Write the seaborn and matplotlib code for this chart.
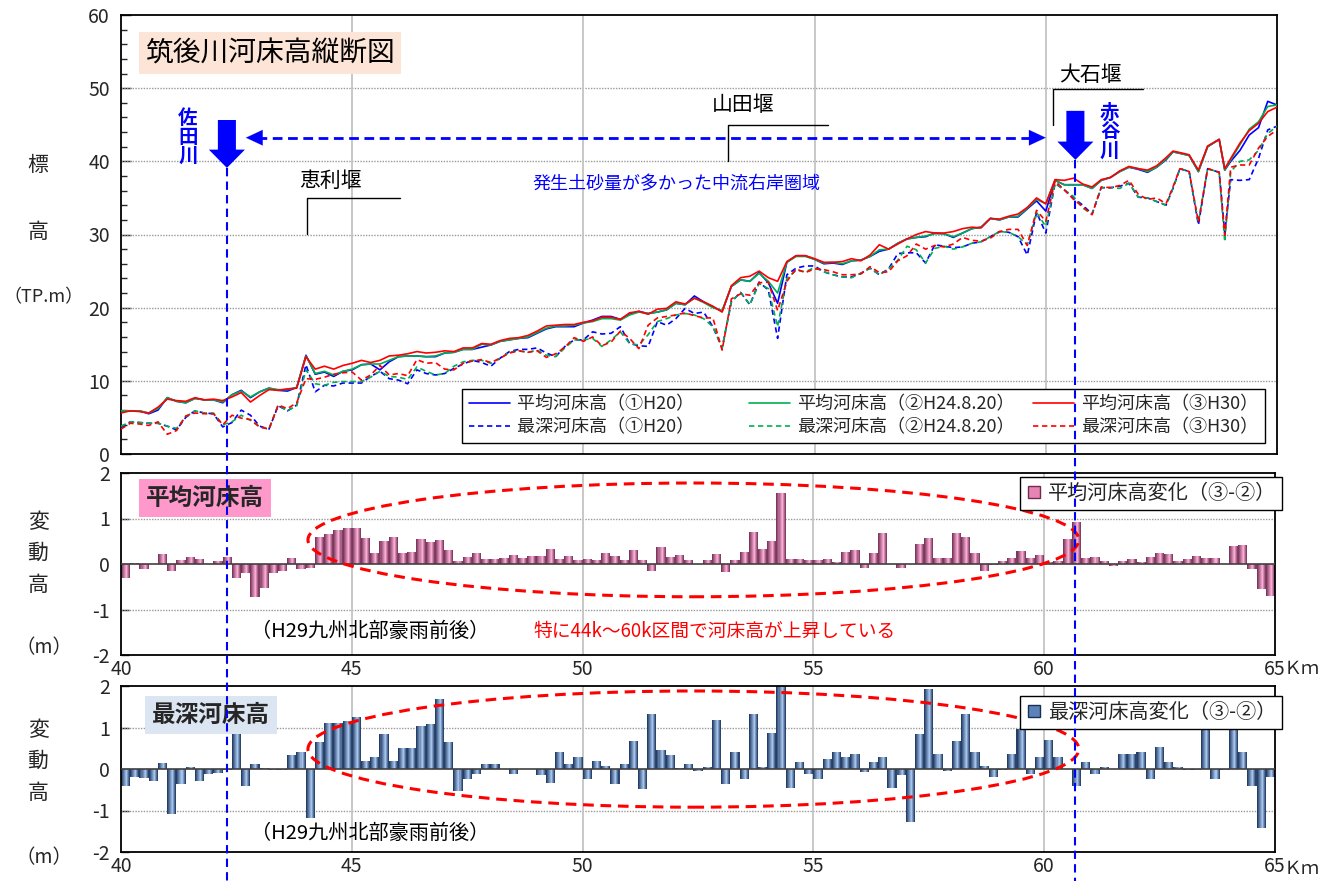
import numpy as np
import matplotlib
matplotlib.use("Agg")
import matplotlib.pyplot as plt
import matplotlib.transforms as mtransforms
from matplotlib.patches import Ellipse, FancyArrow
from matplotlib.lines import Line2D
from matplotlib.colors import LinearSegmentedColormap
import seaborn as sns

sns.set_theme(style="white")
plt.rcParams["font.family"] = ["Noto Sans CJK JP", "DejaVu Sans"]
plt.rcParams["axes.unicode_minus"] = False

# ---------------------------------------------------------------- data
# distance from river mouth (km) of each surveyed cross-section
km_grid = [round(40.0 + 0.2 * i, 1) for i in range(114)]
km_tail = [62.75, 62.9, 63.1, 63.3, 63.5, 63.75, 63.87, 64.0, 64.2, 64.4, 64.6, 64.8, 65.0]
km_line = km_grid + km_tail

# mean bed elevation (TP.m)
mean_h20 = [5.9, 5.9, 5.9, 5.5, 6.0, 7.7, 7.2, 7.0, 7.6, 7.4,
            7.4, 7.0, 8.1, 8.7, 7.7, 8.5, 9.0, 8.7, 8.6, 9.1,
            13.5, 10.9, 11.2, 10.6, 11.3, 11.5, 12.2, 12.3, 11.5, 12.6,
            13.3, 13.4, 13.4, 13.3, 13.3, 13.8, 13.9, 14.3, 14.3, 14.6,
            14.9, 15.4, 15.6, 15.8, 15.9, 16.5, 17.1, 17.4, 17.4, 17.4,
            17.9, 18.3, 18.8, 18.8, 18.4, 19.1, 19.5, 19.2, 19.4, 19.7,
            20.6, 20.4, 21.6, 20.8, 20.1, 19.5, 22.9, 23.8, 23.6, 24.8,
            23.4, 20.6, 26.2, 27.1, 27.1, 26.6, 26.0, 26.1, 25.9, 26.4,
            26.5, 27.0, 27.7, 28.0, 28.8, 29.4, 29.6, 29.7, 30.2, 30.1,
            29.6, 30.2, 30.8, 31.0, 32.2, 32.0, 32.4, 32.4, 33.5, 34.6,
            33.2, 37.4, 36.8, 36.8, 36.8, 36.3, 37.4, 37.8, 38.6, 39.2,
            38.9, 38.5, 39.2, 40.2,
            41.3, 41.1, 40.8, 38.6, 42.0, 43.0, 38.8, 40.0, 41.5, 43.6, 44.6, 48.2, 47.7]
mean_h24 = [5.9, 5.9, 5.9, 5.6, 6.2, 7.7, 7.2, 7.0, 7.6, 7.4,
            7.4, 7.1, 8.1, 8.6, 7.8, 8.5, 9.0, 8.8, 8.8, 9.1,
            13.4, 11.0, 11.3, 10.8, 11.3, 11.6, 12.2, 12.3, 12.3, 12.8,
            13.3, 13.4, 13.4, 13.3, 13.4, 13.8, 13.9, 14.3, 14.3, 15.0,
            14.9, 15.4, 15.6, 15.8, 16.0, 16.6, 17.2, 17.5, 17.5, 17.6,
            17.9, 18.1, 18.5, 18.5, 18.3, 19.0, 19.4, 19.2, 19.4, 19.7,
            20.6, 20.4, 21.3, 20.7, 20.0, 19.6, 22.9, 23.8, 23.6, 24.7,
            23.6, 22.0, 26.2, 27.0, 27.0, 26.6, 26.1, 26.2, 26.0, 26.4,
            26.5, 27.0, 27.9, 28.0, 28.8, 29.4, 29.6, 29.8, 30.1, 30.1,
            29.7, 30.2, 30.8, 31.0, 32.2, 32.0, 32.4, 32.5, 33.6, 34.8,
            34.2, 37.4, 36.8, 36.8, 36.8, 36.3, 37.4, 37.8, 38.6, 39.2,
            39.0, 38.6, 39.2, 40.3,
            41.3, 41.1, 40.8, 38.6, 42.0, 43.0, 38.8, 40.2, 42.3, 44.4, 45.4, 47.5, 47.7]
mean_h30 = [5.6, 5.9, 5.8, 5.6, 6.4, 7.5, 7.3, 7.2, 7.7, 7.4,
            7.5, 7.3, 7.8, 8.4, 7.1, 8.0, 8.8, 8.7, 8.9, 9.0,
            13.3, 11.6, 12.0, 11.6, 12.1, 12.4, 12.8, 12.5, 12.8, 13.4,
            13.5, 13.7, 14.0, 13.8, 13.9, 14.1, 14.0, 14.5, 14.5, 15.1,
            15.0, 15.5, 15.8, 15.9, 16.2, 16.8, 17.5, 17.6, 17.7, 17.7,
            18.0, 18.2, 18.7, 18.7, 18.4, 19.3, 19.5, 19.1, 19.8, 19.9,
            20.8, 20.5, 21.3, 20.8, 20.2, 19.4, 23.0, 24.1, 24.3, 25.0,
            24.1, 23.6, 26.3, 27.1, 27.1, 26.7, 26.2, 26.2, 26.3, 26.7,
            26.4, 27.2, 28.6, 28.0, 28.7, 29.4, 30.0, 30.4, 30.2, 30.2,
            30.4, 30.8, 31.0, 30.9, 32.2, 32.1, 32.5, 32.8, 33.7, 35.0,
            34.2, 37.5, 37.4, 37.7, 36.9, 36.5, 37.5, 37.8, 38.7, 39.3,
            39.0, 38.8, 39.4, 40.5,
            41.4, 41.2, 40.9, 38.8, 42.1, 43.0, 39.0, 40.4, 42.5, 44.2, 45.2, 46.8, 47.4]

# deepest bed elevation (TP.m)
deep_h20 = [3.6, 4.4, 4.3, 4.2, 4.2, 3.8, 3.3, 5.0, 5.9, 5.6,
            5.5, 3.7, 4.3, 6.0, 5.3, 3.8, 3.4, 6.6, 5.9, 6.7,
            12.2, 8.5, 9.4, 9.3, 9.7, 9.7, 9.7, 10.6, 11.3, 10.3,
            10.1, 9.6, 11.5, 11.0, 10.8, 11.0, 11.7, 12.3, 12.8, 12.5,
            12.0, 13.1, 14.0, 14.3, 14.3, 14.5, 13.8, 13.3, 14.7, 15.6,
            15.6, 16.7, 16.4, 16.5, 17.4, 15.1, 14.8, 14.7, 18.1, 17.6,
            18.5, 19.9, 19.2, 19.4, 17.4, 14.5, 20.8, 22.1, 20.4, 23.5,
            22.4, 15.8, 24.5, 25.4, 25.7, 25.7, 24.9, 24.5, 24.2, 24.2,
            24.7, 25.4, 24.5, 25.3, 27.4, 27.5, 27.5, 26.1, 28.6, 28.4,
            28.2, 28.3, 28.8, 29.0, 29.7, 30.4, 30.3, 29.7, 27.2, 33.0,
            30.2, 37.0, 36.1, 35.0, 34.0, 32.8, 36.4, 36.4, 36.6, 37.0,
            35.1, 35.0, 34.5, 34.0,
            36.3, 39.0, 38.6, 31.3, 39.0, 38.5, 30.2, 37.5, 37.4, 37.5, 40.4, 44.3, 44.8]
deep_h24 = [3.8, 4.4, 4.3, 4.2, 4.2, 3.8, 3.5, 5.1, 5.9, 5.6,
            5.6, 4.0, 4.4, 5.3, 4.6, 3.7, 3.4, 6.7, 5.9, 6.6,
            11.5, 9.6, 9.4, 9.8, 9.9, 9.9, 9.9, 10.5, 11.3, 10.6,
            10.5, 10.2, 11.9, 11.3, 10.8, 11.0, 12.0, 12.6, 12.8, 12.8,
            12.4, 13.1, 13.9, 14.1, 13.9, 14.2, 13.5, 13.3, 14.5, 15.6,
            15.6, 15.8, 14.7, 15.6, 16.7, 15.1, 14.9, 16.3, 18.1, 18.5,
            19.0, 19.2, 19.0, 18.5, 17.4, 14.5, 20.8, 22.1, 20.4, 23.3,
            22.6, 17.4, 24.0, 25.1, 24.9, 25.5, 24.9, 24.5, 24.2, 24.1,
            24.7, 25.4, 24.5, 25.3, 26.5, 28.4, 27.9, 26.1, 28.1, 28.4,
            28.0, 28.3, 28.8, 29.0, 29.7, 30.4, 30.3, 29.7, 28.6, 33.0,
            31.1, 37.0, 36.1, 35.2, 33.6, 32.8, 36.4, 36.4, 36.3, 37.0,
            35.1, 35.0, 34.5, 34.0,
            36.3, 39.0, 38.6, 31.7, 39.0, 38.5, 29.0, 38.6, 40.0, 40.2, 41.5, 43.8, 44.8]
deep_h30 = [3.4, 4.2, 4.1, 3.9, 4.4, 2.7, 3.2, 5.2, 5.6, 5.5,
            5.5, 4.0, 5.3, 4.9, 4.7, 3.7, 3.4, 6.7, 6.2, 7.0,
            10.3, 10.2, 10.5, 10.9, 11.1, 11.2, 10.1, 10.8, 12.1, 10.8,
            11.0, 10.7, 12.9, 12.4, 12.5, 11.6, 11.5, 12.4, 12.7, 12.9,
            12.5, 13.1, 13.8, 14.1, 13.9, 14.1, 13.2, 13.7, 14.6, 15.9,
            15.4, 16.0, 14.8, 15.3, 16.8, 15.8, 14.4, 17.6, 18.6, 18.8,
            19.0, 19.3, 18.9, 18.6, 18.6, 14.2, 21.2, 21.9, 21.7, 23.4,
            23.5, 19.6, 23.6, 25.3, 24.8, 25.3, 25.2, 24.9, 24.5, 24.5,
            24.6, 25.6, 24.8, 24.9, 26.4, 27.1, 28.7, 28.0, 28.5, 28.3,
            28.7, 29.6, 29.2, 29.1, 29.5, 30.4, 30.7, 30.7, 28.5, 33.3,
            31.8, 37.3, 36.1, 34.8, 33.8, 32.7, 36.5, 36.4, 36.7, 37.4,
            35.5, 34.8, 35.0, 34.2,
            36.5, 39.0, 38.6, 31.7, 39.0, 38.5, 29.9, 39.2, 39.5, 39.5, 41.8, 43.4, 44.3]

# change in bed elevation (③H30 - ②H24.8.20), one bar per 0.2 km section (m)
mean_change = [-0.30, 0.02, -0.10, 0.00, 0.21, -0.16, 0.09, 0.15, 0.11, 0.01,
               0.07, 0.15, -0.30, -0.19, -0.72, -0.52, -0.19, -0.15, 0.13, -0.10,
               -0.08, 0.59, 0.66, 0.75, 0.79, 0.79, 0.57, 0.24, 0.51, 0.59,
               0.24, 0.26, 0.55, 0.48, 0.53, 0.31, 0.07, 0.15, 0.24, 0.11,
               0.11, 0.13, 0.20, 0.13, 0.18, 0.18, 0.33, 0.11, 0.18, 0.09,
               0.11, 0.09, 0.24, 0.18, 0.09, 0.31, 0.09, -0.15, 0.37, 0.15,
               0.20, 0.09, 0.01, 0.09, 0.22, -0.17, 0.09, 0.26, 0.70, 0.33,
               0.51, 1.56, 0.11, 0.11, 0.09, 0.09, 0.11, 0.04, 0.26, 0.31,
               -0.08, 0.24, 0.68, 0.00, -0.08, 0.00, 0.44, 0.57, 0.13, 0.13,
               0.68, 0.59, 0.24, -0.15, -0.03, 0.07, 0.13, 0.29, 0.13, 0.20,
               0.04, 0.07, 0.55, 0.92, 0.13, 0.15, 0.07, -0.04, 0.07, 0.11,
               0.04, 0.15, 0.24, 0.22, 0.07, 0.11, 0.18, 0.13, 0.13, 0.01,
               0.40, 0.42, -0.12, -0.54, -0.70]
deep_change = [-0.42, -0.19, -0.21, -0.30, 0.15, -1.08, -0.35, 0.06, -0.30, -0.11,
               -0.09, -0.02, 0.89, -0.42, 0.11, 0.03, -0.02, -0.02, 0.33, 0.40,
               -1.17, 0.64, 1.11, 1.11, 1.15, 1.25, 0.20, 0.30, 0.84, 0.20,
               0.50, 0.50, 1.03, 1.08, 1.69, 0.64, -0.54, -0.25, -0.13, 0.11,
               0.13, 0.00, -0.11, 0.00, -0.01, -0.15, -0.33, 0.42, 0.11, 0.30,
               -0.23, 0.20, 0.08, -0.35, 0.13, 0.67, -0.47, 1.33, 0.45, 0.33,
               0.03, 0.11, -0.06, 0.06, 1.18, -0.35, 0.40, -0.25, 1.33, 0.06,
               0.86, 2.20, -0.45, 0.18, -0.13, -0.23, 0.25, 0.40, 0.28, 0.35,
               -0.08, 0.18, 0.30, -0.45, -0.15, -1.28, 0.84, 1.92, 0.35, -0.06,
               0.67, 1.33, 0.42, 0.08, -0.20, -0.02, 0.37, 0.96, -0.11, 0.28,
               0.69, 0.30, 0.00, -0.40, 0.18, -0.11, 0.06, 0.00, 0.37, 0.35,
               0.42, -0.23, 0.54, 0.18, 0.06, -0.02, -0.02, 0.98, -0.25, -0.02,
               1.20, 0.40, -0.40, -1.42, -0.20]
bar_km = [round(40.1 + 0.2 * i, 2) for i in range(len(mean_change))]

x_ticks = [40, 45, 50, 55, 60, 65]
x_ticklabels = ["40", "45", "50", "55", "60", "65"]

BLUE, GREEN, RED = "#0000ff", "#00b050", "#ff0000"
DASH = (0, (3.2, 2.2))

# ---------------------------------------------------------------- figure
W, H = 1341, 881
fig = plt.figure(figsize=(W / 100, H / 100), dpi=100)
fig.patch.set_facecolor("white")


def fx(px):
    return px / W


def fy(py):
    return 1 - py / H


ax_top = fig.add_axes([fx(121), fy(454), fx(1156), 439 / H])
ax_mid = fig.add_axes([fx(121), fy(655), fx(1154), 182 / H])
ax_bot = fig.add_axes([fx(121), fy(852), fx(1154), 166 / H])

# ---------------------------------------------------------------- longitudinal profile
series = [
    (mean_h20, "平均河床高（①H20）", BLUE, "-"),
    (deep_h20, "最深河床高（①H20）", BLUE, DASH),
    (mean_h24, "平均河床高（②H24.8.20）", GREEN, "-"),
    (deep_h24, "最深河床高（②H24.8.20）", GREEN, DASH),
    (mean_h30, "平均河床高（③H30）", RED, "-"),
    (deep_h30, "最深河床高（③H30）", RED, DASH),
]
for vals, lab, col, ls in series:
    sns.lineplot(x=km_line, y=vals, ax=ax_top, color=col, linestyle=ls,
                 linewidth=1.2, label=lab, errorbar=None, zorder=4)

ax_top.set_xlim(40, 65)
ax_top.set_ylim(0, 60)
ax_top.set_yticks(range(0, 61, 10))
ax_top.set_yticks(range(0, 61, 2), minor=True)
ax_top.set_xticks([])
for v in range(10, 60, 10):
    ax_top.axhline(v, color="#9a9a9a", lw=1.0, ls=(0, (1, 1)), zorder=1)
for k in [45, 50, 55, 60]:
    ax_top.axvline(k, color="#c4c4c4", lw=1.3, zorder=1)
ax_top.tick_params(axis="y", which="major", direction="in", length=7, width=1,
                   labelsize=14, pad=8, left=True)
ax_top.tick_params(axis="y", which="minor", direction="in", length=4, width=1, left=True)
for t in ax_top.get_yticklabels():
    t.set_verticalalignment("center_baseline")

handles, labels = ax_top.get_legend_handles_labels()
labels = [lab + "\u3000\u3000" if "①" in lab else lab for lab in labels]
leg = ax_top.legend(handles, labels, ncol=3, loc="lower right",
                    bbox_to_anchor=(fx(1265), fy(443)), bbox_transform=fig.transFigure,
                    frameon=True, fancybox=False, edgecolor="black", fontsize=13,
                    handlelength=2.3, handletextpad=0.4, columnspacing=1.0,
                    labelspacing=0.3, borderpad=0.35, borderaxespad=0, framealpha=1)
leg.get_frame().set_linewidth(1.0)
leg.set_zorder(6)

# title
ax_top.text(fx(270), fy(53), "筑後川河床高縦断図", transform=fig.transFigure,
            ha="center", va="center", fontsize=20, color="black",
            bbox=dict(boxstyle="square,pad=0.22", fc="#fce4d6", ec="none"), zorder=6)

# tributary arrows
ax_top.add_patch(FancyArrow(42.29, 45.65, 0, -6.55, width=0.39, head_width=0.78,
                            head_length=2.5, length_includes_head=True,
                            color=BLUE, lw=0, zorder=5))
ax_top.add_patch(FancyArrow(60.64, 46.9, 0, -6.7, width=0.39, head_width=0.78,
                            head_length=2.5, length_includes_head=True,
                            color=BLUE, lw=0, zorder=5))
ax_top.text(41.45, 43.3, "佐\n田\n川", ha="center", va="center", fontsize=14,
            fontweight="bold", color=BLUE, linespacing=1.0, zorder=5)
ax_top.text(61.38, 44.0, "赤\n谷\n川", ha="center", va="center", fontsize=14,
            fontweight="bold", color=BLUE, linespacing=1.0, zorder=5)

# reach of heavy sediment supply
ax_top.plot([42.95, 59.75], [43.23, 43.23], color=BLUE, lw=2.0, ls=(0, (3.5, 2)), zorder=5)
for tip, tail in [(42.70, 43.1), (60.0, 59.6)]:
    ax_top.annotate("", xy=(tip, 43.23), xytext=(tail, 43.23),
                    arrowprops=dict(arrowstyle="-|>,head_length=0.75,head_width=0.35",
                                    mutation_scale=16, color=BLUE, lw=0.1,
                                    shrinkA=0, shrinkB=0), zorder=5)
ax_top.text(52.02, 36.9, "発生土砂量が多かった中流右岸圏域", ha="center", va="center",
            fontsize=13, color=BLUE, zorder=5)

# weirs
weirs = [("恵利堰", 44.02, 46.03, 34.99, 30.07, 44.52, 37.3),
         ("山田堰", 53.13, 55.29, 44.96, 40.04, 53.45, 47.7),
         ("大石堰", 60.16, 62.10, 49.88, 44.96, 60.96, 51.8)]
for name, x0, x1, y0, y1, tx, ty in weirs:
    ax_top.plot([x0, x0, x1], [y1, y0, y0], color="black", lw=1.0, zorder=5)
    ax_top.text(tx, ty, name, ha="center", va="center", fontsize=15, color="black", zorder=5)

# ---------------------------------------------------------------- change bars


def gradient_bars(ax, x, vals, dark, light, n=9, width=0.2):
    cmap = LinearSegmentedColormap.from_list("cyl", [(0, dark), (0.6, light), (1, dark)])
    x = np.asarray(x)
    for j in range(n):
        t = (j + 0.5) / n
        ax.bar(x - width / 2 + t * width, vals, width=width / n * 1.05,
               color=cmap(t), linewidth=0, zorder=2)


panels = [
    (ax_mid, mean_change, "#6e2c50", "#ffb0d8", "平均河床高変化（③-②）", "#e784b4",
     (1282, 477), 0.53, 2.5),
    (ax_bot, deep_change, "#17305a", "#a9c8f0", "最深河床高変化（③-②）", "#5d82b8",
     (1282, 696), 0.48, 2.8),
]
for ax, vals, dark, light, leglab, legc, legpos, ecy, ech in panels:
    gradient_bars(ax, bar_km, vals, dark, light)
    ax.set_xlim(40, 65)
    ax.set_ylim(-2, 2)
    ax.set_yticks([-2, -1, 0, 1, 2])
    ax.set_yticklabels(["-2", "-1", "0", "1", "2"])
    ax.set_xticks(x_ticks)
    ax.set_xticklabels(x_ticklabels)
    ax.axhline(0, color="#404040", lw=1.2, zorder=3)
    for v in (-1, 1):
        ax.axhline(v, color="#9a9a9a", lw=1.0, ls=(0, (1, 1)), zorder=1)
    for k in [45, 50, 55, 60]:
        ax.axvline(k, color="#c4c4c4", lw=1.3, zorder=1)
    ax.tick_params(axis="y", direction="in", length=6, width=1, labelsize=14, pad=8, left=True)
    ax.tick_params(axis="x", length=0, labelsize=14, pad=3)
    for t in ax.get_yticklabels():
        t.set_verticalalignment("center_baseline")
    ax.add_patch(Ellipse((52.4, ecy), 16.7, ech, fill=False, edgecolor="#ff0000",
                         lw=2.2, ls=(0, (3.5, 2.2)), zorder=4))
    lg = ax.legend([Line2D([], [], marker="s", ls="none", mfc=legc, mec=dark, ms=9)],
                   [leglab], loc="upper right",
                   bbox_to_anchor=(fx(legpos[0]), fy(legpos[1])), bbox_transform=fig.transFigure,
                   fontsize=14.5, handlelength=0.8, handletextpad=0.3, borderpad=0.3,
                   borderaxespad=0, fancybox=False, edgecolor="black", framealpha=1)
    lg.get_frame().set_linewidth(1.0)
    lg.set_zorder(6)

ax_mid.text(fx(205), fy(498), "平均河床高", transform=fig.transFigure, ha="center",
            va="center", fontsize=17, fontweight="bold",
            bbox=dict(boxstyle="square,pad=0.3", fc="#ff99cc", ec="none"), zorder=6)
ax_bot.text(fx(211), fy(715), "最深河床高", transform=fig.transFigure, ha="center",
            va="center", fontsize=17, fontweight="bold",
            bbox=dict(boxstyle="square,pad=0.3", fc="#dce6f2", ec="none"), zorder=6)
ax_mid.text(45.4, -1.49, "（H29九州北部豪雨前後）", ha="center", va="center",
            fontsize=14.5, color="black", zorder=5)
ax_mid.text(52.85, -1.49, "特に44k～60k区間で河床高が上昇している", ha="center",
            va="center", fontsize=13.5, color="#ff0000", zorder=5)
ax_bot.text(45.4, -1.55, "（H29九州北部豪雨前後）", ha="center", va="center",
            fontsize=14.5, color="black", zorder=5)

for ax in (ax_top, ax_mid, ax_bot):
    for s in ax.spines.values():
        s.set_color("black")
        s.set_linewidth(1.3)
    ax.set_xlabel("")
    ax.set_ylabel("")
    ax.set_facecolor("white")

# km unit next to the last tick label
fig.text(fx(1284), fy(669), "Ｋｍ", ha="left", va="center", fontsize=13)
fig.text(fx(1284), fy(869), "Ｋｍ", ha="left", va="center", fontsize=13)

# axis titles
for ch, py in [("標", 165), ("高", 232)]:
    fig.text(fx(38), fy(py), ch, ha="center", va="center", fontsize=15)
fig.text(fx(44), fy(297), "（TP.m）", ha="center", va="center", fontsize=13)
for base in (0, 208):
    for ch, py in [("変", 522), ("動", 553), ("高", 585)]:
        fig.text(fx(38), fy(py + base), ch, ha="center", va="center", fontsize=15)
fig.text(fx(44), fy(648), "（m）", ha="center", va="center", fontsize=14)
fig.text(fx(44), fy(858), "（m）", ha="center", va="center", fontsize=14)

# tributary confluence markers running through all panels
blend = mtransforms.blended_transform_factory(ax_top.transData, fig.transFigure)
for k, top_px in [(42.29, 168), (60.64, 160)]:
    fig.add_artist(Line2D([k, k], [fy(top_px), 0.0], transform=blend, color=BLUE,
                          lw=1.5, ls=(0, (4, 2.5)), zorder=10))

fig.savefig("out.png", dpi=100, facecolor="white")
